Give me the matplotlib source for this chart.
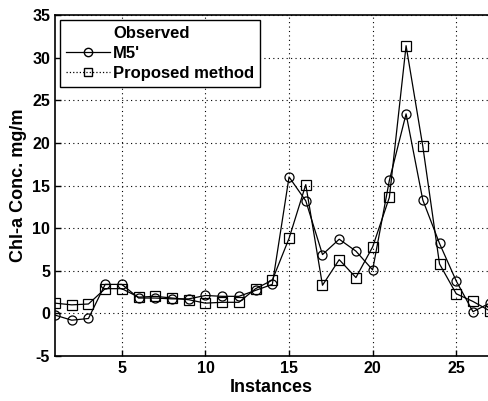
import numpy as np
import matplotlib.pyplot as plt
from matplotlib.lines import Line2D

plt.rcParams['font.family'] = ['Liberation Sans', 'DejaVu Sans']
plt.rcParams['font.weight'] = 'bold'
plt.rcParams['axes.unicode_minus'] = False

# Data
instances = np.arange(1, 28)
m5 = [-0.2, -0.8, -0.6, 3.4, 3.4, 1.8, 1.8, 1.7, 1.7, 2.1, 2.0, 2.0, 2.7, 3.4,
      16.0, 13.2, 6.9, 8.7, 7.3, 5.1, 15.6, 23.4, 13.3, 8.2, 3.8, 0.2, 1.2]
proposed = [1.2, 1.0, 1.1, 2.9, 2.9, 1.9, 2.0, 1.8, 1.6, 1.2, 1.3, 1.3, 2.9, 3.9,
            8.8, 15.1, 3.3, 6.3, 4.2, 7.8, 13.6, 31.4, 19.6, 5.8, 2.3, 1.4, 0.3]
xticks = [5, 10, 15, 20, 25]
yticks = np.arange(-5, 36, 5)

fig = plt.figure(figsize=(4.88, 4.01), dpi=100)
ax = fig.add_axes([0.1127, 0.1122, 0.8873, 0.8504])

ax.plot(instances, m5, '-', color='black', lw=0.9, marker='o', ms=6.5,
        mfc='none', mec='black', mew=0.9)
ax.plot(instances, proposed, '-', color='black', lw=0.9, marker='s', ms=6.5,
        mfc='none', mec='black', mew=0.9)

ax.set_xlim(1, 26.9)
ax.set_ylim(-5, 35)
ax.set_xticks(xticks)
ax.set_yticks(yticks)
ax.tick_params(direction='in', labelsize=11.5, length=4, width=1)
for lab in ax.get_xticklabels() + ax.get_yticklabels():
    lab.set_fontweight('bold')
ax.grid(True, linestyle=(0, (1, 3)), color='black', linewidth=0.8)
for s in ax.spines.values():
    s.set_linewidth(1.2)
ax.spines['right'].set_visible(False)

ax.set_xlabel('Instances', fontsize=13, fontweight='bold', labelpad=2)
ax.set_ylabel('Chl-a Conc. mg/m', fontsize=13, fontweight='bold', labelpad=4)

handles = [
    Line2D([], [], linestyle='none'),
    Line2D([], [], color='black', lw=0.9, marker='o', ms=6, mfc='none'),
    Line2D([], [], color='black', lw=0.9, ls=':', marker='s', ms=6, mfc='none'),
]
leg = ax.legend(handles, ['Observed', "M5'", 'Proposed method'], loc='upper left',
                bbox_to_anchor=(0.005, 0.995), fancybox=False, framealpha=1,
                edgecolor='black', fontsize=12, handlelength=2.6,
                handletextpad=0.2, borderpad=0.35, labelspacing=0.3,
                borderaxespad=0.2)
leg.get_frame().set_linewidth(1.0)
for t in leg.get_texts():
    t.set_fontweight('bold')

fig.savefig('out.png', dpi=100)
